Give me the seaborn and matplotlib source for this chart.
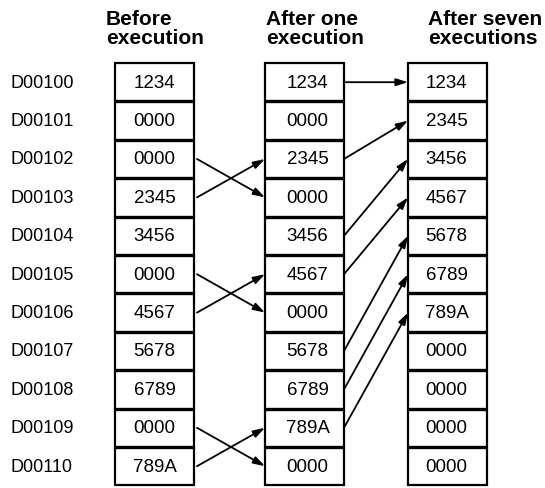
import numpy as np
import seaborn as sns
import matplotlib.pyplot as plt
from matplotlib.patches import Rectangle

sns.set_style("white")
plt.rcParams["font.family"] = ["Liberation Sans", "DejaVu Sans"]
plt.rcParams["text.color"] = "black"

# data
addresses = ["D00100", "D00101", "D00102", "D00103", "D00104", "D00105",
             "D00106", "D00107", "D00108", "D00109", "D00110"]
before = ["1234", "0000", "0000", "2345", "3456", "0000",
          "4567", "5678", "6789", "0000", "789A"]
after_one = ["1234", "0000", "2345", "0000", "3456", "4567",
             "0000", "5678", "6789", "789A", "0000"]
after_seven = ["1234", "2345", "3456", "4567", "5678", "6789",
               "789A", "0000", "0000", "0000", "0000"]
headers = ["Before\nexecution", "After one\nexecution", "After seven\nexecutions"]

# moves (source row -> destination row)
moves_first = [(2, 3), (3, 2), (5, 6), (6, 5), (9, 10), (10, 9)]
moves_seven = [(0, 0), (2, 1), (4, 2), (5, 3), (7, 4), (8, 5), (9, 6)]

# layout (pixels)
col_left = [115, 265, 408]
col_w = 79
text_dx = [0, 3, -1]
head_x = [106, 266, 428]
top = 64
row_h = 38.4

fig = plt.figure(figsize=(5.45, 4.89), dpi=100)
ax = fig.add_axes([0, 0, 1, 1])
ax.set_xlim(0, 545)
ax.set_ylim(489, 0)
ax.axis("off")

columns = [before, after_one, after_seven]
for c, vals in enumerate(columns):
    x0 = col_left[c]
    n = len(vals)
    ax.add_patch(Rectangle((x0, top), col_w, n * row_h, fill=False,
                           lw=1.6, ec="black"))
    for i in range(1, n):
        y = top + i * row_h
        ax.plot([x0, x0 + col_w], [y, y], color="black", lw=2.4,
                solid_capstyle="butt")
    for i, v in enumerate(vals):
        ax.text(x0 + col_w / 2 + text_dx[c], top + (i + 0.5) * row_h, v,
                ha="center", va="center", fontsize=13.5, color="black")
    ax.text(head_x[c], 29, headers[c], ha="left", va="center",
            fontsize=15, fontweight="bold", linespacing=1.0, color="black")

for i, a in enumerate(addresses):
    ax.text(10, top + (i + 0.5) * row_h, a, ha="left", va="center",
            fontsize=13, color="black")


def arrow(x1, y1, x2, y2):
    ax.annotate("", xy=(x2, y2), xytext=(x1, y1),
                arrowprops=dict(arrowstyle="-|>,head_length=0.7,head_width=0.22",
                                color="black", lw=1.3, shrinkA=0, shrinkB=0))


for s, d in moves_first:
    arrow(col_left[0] + col_w + 3, top + (s + 0.5) * row_h,
          col_left[1], top + (d + 0.5) * row_h)

for s, d in moves_seven:
    arrow(col_left[1] + col_w, top + (s + 0.5) * row_h,
          col_left[2], top + (d + 0.5) * row_h)

fig.savefig("out.png", dpi=100)
